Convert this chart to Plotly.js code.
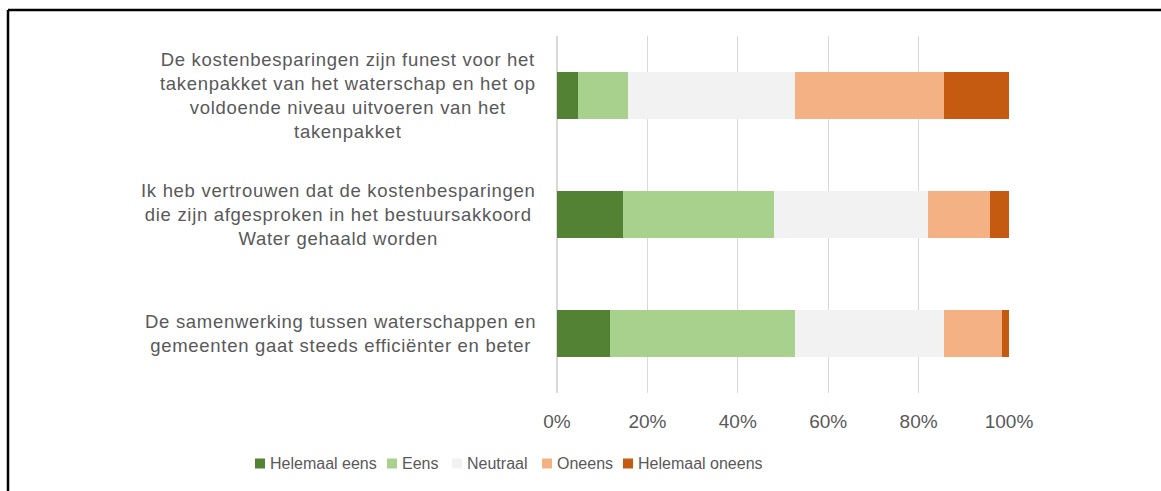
<!DOCTYPE html>
<html>
<head>
<meta charset="utf-8">
<script src="https://cdn.plot.ly/plotly-3.0.1.min.js"></script>
<style>
html, body { margin: 0; padding: 0; background: #ffffff; }
#chart { width: 1161px; height: 491px; }
text.annotation-text[data-unformatted*="<br>"] { letter-spacing: 0.7px; }
</style>
</head>
<body>
<div id="chart"></div>
<script>
// Statements (top to bottom)
const statements = [
  "De kostenbesparingen zijn funest voor het takenpakket van het waterschap en het op voldoende niveau uitvoeren van het takenpakket",
  "Ik heb vertrouwen dat de kostenbesparingen die zijn afgesproken in het bestuursakkoord Water gehaald worden",
  "De samenwerking tussen waterschappen en gemeenten gaat steeds efficiënter en beter"
];
const statementLabels = [
  "De kostenbesparingen zijn funest voor het<br>takenpakket van het waterschap en het op<br>voldoende niveau uitvoeren van het<br>takenpakket",
  "Ik heb vertrouwen dat de kostenbesparingen<br>die zijn afgesproken in het bestuursakkoord<br>Water gehaald worden",
  "De samenwerking tussen waterschappen en<br>gemeenten gaat steeds efficiënter en beter"
];
const seriesNames = ["Helemaal eens", "Eens", "Neutraal", "Oneens", "Helemaal oneens"];
// Shares per statement (fractions)
const helemaalEens   = [0.046, 0.146, 0.117];
const eens           = [0.110, 0.334, 0.409];
const neutraal       = [0.370, 0.341, 0.330];
const oneens         = [0.330, 0.138, 0.128];
const helemaalOneens = [0.144, 0.041, 0.016];
const xTicks = [0, 0.2, 0.4, 0.6, 0.8, 1.0];

const seriesValues = [helemaalEens, eens, neutraal, oneens, helemaalOneens];
const colors = ["#548235", "#A9D18E", "#F2F2F2", "#F4B183", "#C55A11"];

// ---- layout helpers (pixel geometry of the figure) ----
const W = 1161, H = 491;
const plotL = 557, plotR = 1009, plotT = 36, plotB = 393;
const px2x = p => (p - plotL) / (plotR - plotL);
const px2y = p => (plotB - p) / (plotB - plotT);
// custom legend: left edge of each swatch, in pixels
const legendSwatchLeft = [255, 387, 452, 542, 623];
const legendY = 463.5, swatch = 10, swatchTextGap = 3;

const traces = seriesNames.map((name, i) => ({
  type: "bar",
  orientation: "h",
  name: name,
  x: seriesValues[i],
  y: statements,
  marker: { color: colors[i], line: { width: 0 } },
  hoverinfo: "name+x",
  showlegend: false
}));

const textColor = "#595959";
const annotations = statements.map((s, i) => ({
  xref: "paper", yref: "y",
  x: px2x(538), y: s,
  xanchor: "right", yanchor: "middle",
  align: "center",
  text: statementLabels[i],
  showarrow: false,
  font: { family: "Liberation Sans, Arial, sans-serif", size: 18.5, color: textColor }
}));

const shapes = [
  // frame (top and left edges visible; the rest is cropped off)
  { type: "line", xref: "paper", yref: "paper",
    x0: px2x(8), x1: px2x(W + 20), y0: px2y(10), y1: px2y(10),
    line: { color: "#000000", width: 2.5 }, layer: "above" },
  { type: "line", xref: "paper", yref: "paper",
    x0: px2x(8), x1: px2x(8), y0: px2y(10), y1: px2y(H + 20),
    line: { color: "#000000", width: 2.5 }, layer: "above" }
];

seriesNames.forEach((name, i) => {
  const left = legendSwatchLeft[i];
  shapes.push({
    type: "rect", xref: "paper", yref: "paper",
    x0: px2x(left), x1: px2x(left + swatch),
    y0: px2y(legendY - swatch / 2), y1: px2y(legendY + swatch / 2),
    fillcolor: colors[i], line: { width: 0 }, layer: "above"
  });
  annotations.push({
    xref: "paper", yref: "paper",
    x: px2x(left + swatch + swatchTextGap), y: px2y(legendY),
    xanchor: "left", yanchor: "middle",
    text: name, showarrow: false,
    font: { family: "Liberation Sans, Arial, sans-serif", size: 16, color: textColor }
  });
});

const layout = {
  width: W, height: H,
  margin: { l: plotL, r: W - plotR, t: plotT, b: H - plotB },
  paper_bgcolor: "#ffffff",
  plot_bgcolor: "#ffffff",
  barmode: "stack",
  bargap: 0.6,
  showlegend: false,
  xaxis: {
    range: [0, 1],
    tickvals: xTicks,
    tickformat: ".0%",
    showgrid: true,
    gridcolor: "#D9D9D9",
    gridwidth: 1.3,
    zeroline: true,
    zerolinecolor: "#D9D9D9",
    zerolinewidth: 1.3,
    showline: false,
    ticks: "",
    ticklabelstandoff: 15,
    tickfont: { family: "Liberation Sans, Arial, sans-serif", size: 19, color: textColor },
    fixedrange: true
  },
  yaxis: {
    type: "category",
    categoryorder: "array",
    categoryarray: statements,
    autorange: "reversed",
    showticklabels: false,
    showgrid: false,
    zeroline: false,
    showline: false,
    ticks: "",
    fixedrange: true
  },
  annotations: annotations,
  shapes: shapes
};

Plotly.newPlot("chart", traces, layout, { displayModeBar: false, staticPlot: true });
</script>
</body>
</html>
